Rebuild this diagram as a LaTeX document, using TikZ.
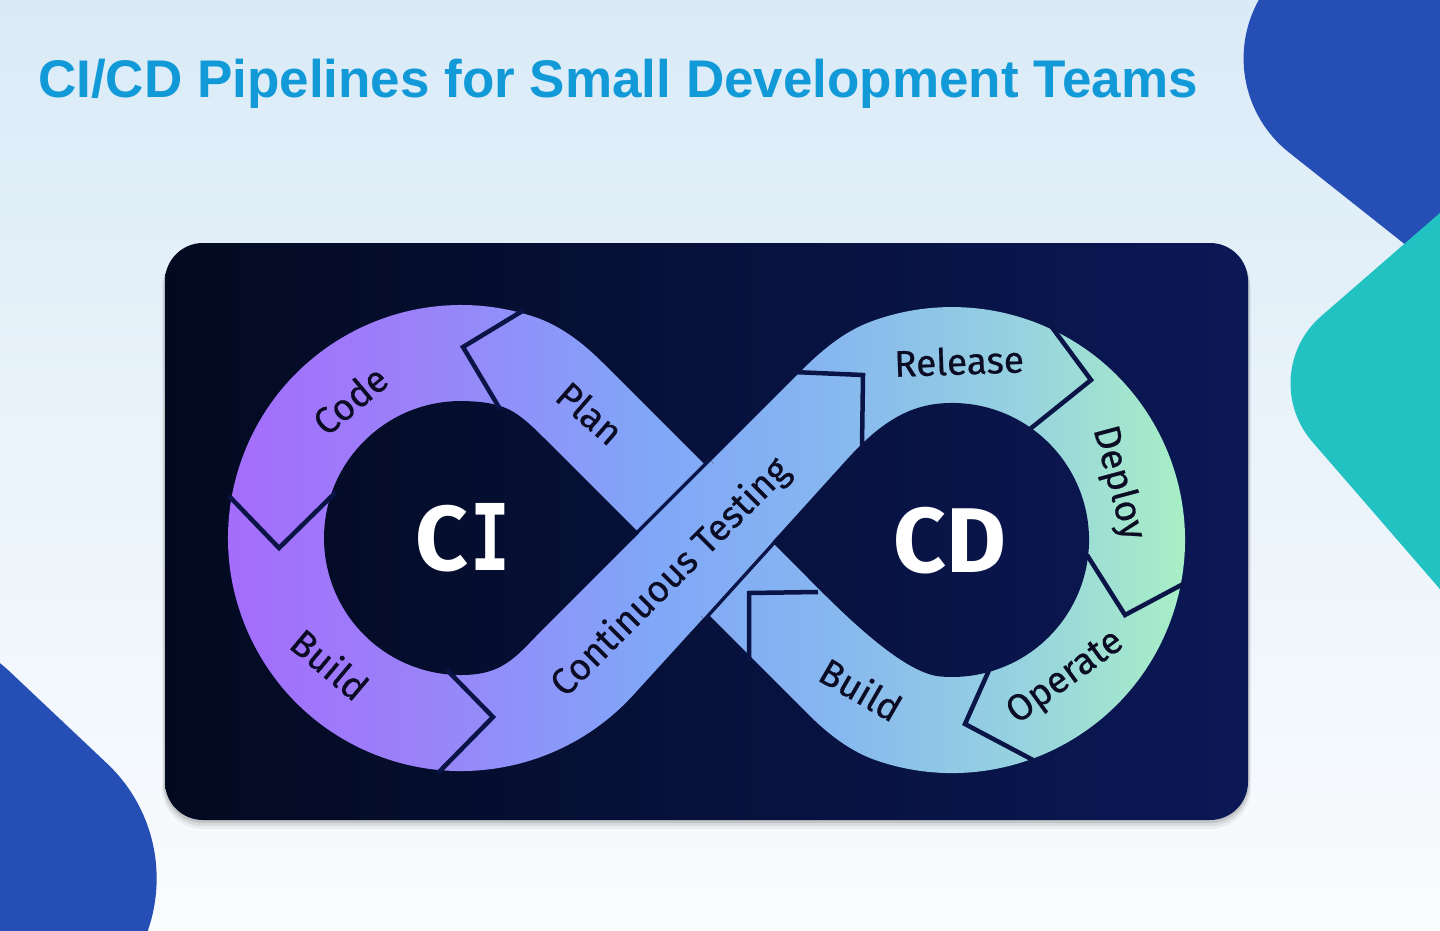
\documentclass[tikz,border=0pt]{standalone}
\usepackage{fontspec}
\setmainfont{Fira Sans}
\newfontfamily\ttlfont{Liberation Sans}
\newfontfamily\lblfont{Fira Sans}[FakeBold=0.6]
\newfontfamily\bigfont{Fira Sans}
\newfontfamily\serifmono{DejaVu Sans Mono}
\definecolor{bgtop}{HTML}{DAEBF7}
\definecolor{bgbot}{HTML}{FAFCFE}
\definecolor{titleblue}{HTML}{119AD7}
\definecolor{decoblue}{HTML}{264FB5}
\definecolor{decoteal}{HTML}{22C2C3}
\definecolor{cardleft}{HTML}{030A20}
\definecolor{cardright}{HTML}{0B1856}
\definecolor{sepcol}{HTML}{0A1446}
\definecolor{labcol}{HTML}{0B0C24}
\definecolor{lpA}{HTML}{A46CFB}
\definecolor{lpB}{HTML}{9A82F9}
\definecolor{lpC}{HTML}{80A7F8}
\definecolor{lpD}{HTML}{86B6F0}
\definecolor{lpE}{HTML}{96D2E0}
\definecolor{lpF}{HTML}{A9F0C4}
\pgfdeclarehorizontalshading{loopshade}{100bp}{color(0bp)=(lpA); color(25bp)=(lpA); color(35bp)=(lpB); color(47bp)=(lpC); color(56bp)=(lpD); color(66bp)=(lpE); color(75bp)=(lpF); color(100bp)=(lpF)}
\newcommand\loopfill{\shade[shading=loopshade] (226,298) rectangle (1192,782);}
\newcommand\cardfill{\shade[left color=cardleft, right color=cardright] (165,243) rectangle (1248,820);}
\begin{document}
\begin{tikzpicture}[x=1pt,y=-1pt,
  lbl/.style={font=\lblfont\fontsize{37}{40}\selectfont, text=labcol, inner sep=0pt},
  bignum/.style={font=\bigfont\bfseries\fontsize{92}{100}\selectfont, text=white, inner sep=0pt},
  sepline/.style={draw=sepcol, line width=4.5pt, line join=miter, line cap=butt}]
\useasboundingbox (0,0) rectangle (1440,931);
\clip (0,0) rectangle (1440,931);
% background
\shade[top color=bgtop, bottom color=bgbot] (0,0) rectangle (1440,931);
% decorative shapes
\fill[decoblue, rounded corners=120pt] (1356.5,-125.9) -- (1195,78) -- (1602.7,401) -- (1925.7,-6.7) -- (1518,-329.7) -- cycle;
\fill[decoteal, rounded corners=89pt] (1423.9,226.9) -- (1254,374.5) -- (1548.8,714.7) -- (1888.6,419.5) -- (1593.8,79.3) -- cycle;
\fill[decoblue, rounded corners=158pt] (-105,563.3) -- (222,872) -- (-86.7,1199) -- (-413.7,890.5) -- cycle;
% title
\node[anchor=base west, inner sep=0pt, font=\ttlfont\bfseries\fontsize{53}{60}\selectfont, text=titleblue] (title) at (38,98) {CI/CD Pipelines for Small Development Teams};
% card shadow and card
\fill[black, opacity=0.05, rounded corners=41pt] (162,248) rectangle (1251,829);
\fill[black, opacity=0.07, rounded corners=40pt] (163,246) rectangle (1250,826);
\fill[black, opacity=0.10, rounded corners=39pt] (164,245) rectangle (1249,823);
\shade[left color=cardleft, right color=cardright, rounded corners=38pt] (165,243) rectangle (1248,820);
% infinity band: outer outline
\begin{scope}
 \clip (706,466) -- (602.9,362.9) .. controls (583.1,343.1) and (560.4,325.4) .. (533.8,316.7)
   arc[start angle=-71.8, end angle=-317.9, radius=233]
   -- (707.5,613.5) -- (807.8,713.8)
   .. controls (827.6,733.6) and (850.4,751.6) .. (876.9,760.6)
   arc[start angle=108.8, end angle=-110.2, radius=233]
   .. controls (843.3,331.7) and (820.6,351.4) .. (799.4,372.6) -- cycle;
 \loopfill
\end{scope}
% continuous testing band over the crossing
\draw[sepline, line width=7pt] (633.5,538.5) -- (711,461);
\draw[sepline, line width=7pt] (703.4,618.1) -- (777.3,536.5);
\begin{scope}\clip (633.5,538.5) -- (703.4,618.1) -- (777.3,536.5) -- (711,461) -- cycle; \loopfill\end{scope}
% holes
\begin{scope}
 \clip (465.8,401.1) arc[start angle=-88, end angle=-272, radius=137]
   .. controls (505.8,673.5) and (517.7,654.3) .. (546,626) -- (639,533) -- (545,439)
   .. controls (516.7,410.7) and (505.8,402.5) .. (465.8,401.1) -- cycle;
 \cardfill
\end{scope}
\begin{scope}
 \clip (940.1,403.5) arc[start angle=-95, end angle=95, radius=137]
   .. controls (900.3,673) and (834.3,604.3) .. (806,576) -- (772.2,542.1) -- (845.3,461.3)
   .. controls (872,431.7) and (900.3,407) .. (940.1,403.5) -- cycle;
 \cardfill
\end{scope}
% separators
\draw[sepline] (229,496) -- (279,548) -- (336,492);
\draw[sepline] (524,310) -- (463,347) -- (500,409);
\draw[sepline] (447,670) -- (493,717) -- (438,773);
\draw[sepline] (1051,326) -- (1091,380) -- (1030,429);
\draw[sepline] (1185,583) -- (1125,615) -- (1087,555);
\draw[sepline] (990,668) -- (965,724) -- (1033,760);
\draw[sepline] (818,592) -- (749,593) -- (749,661);
\draw[sepline] (793,372) -- (863,375) -- (862,446);
% labels
\node[lbl, rotate=40] (code) at (350,400) {Code};
\node[lbl, rotate=-41] (plan) at (590,413) {Plan};
\node[lbl, rotate=-40] (buildl) at (330,664) {Build};
\node[lbl, rotate=45] (ctest) at (671,578) {Continuous Testing};
\node[lbl, rotate=2] (release) at (959,361) {Release};
\node[lbl, rotate=-75] (deploy) at (1118,483) {Deploy};
\node[lbl, rotate=36] (operate) at (1066,678) {Operate};
\node[lbl, rotate=-30] (buildr) at (861,689) {Build};
\node[bignum] (ci) at (463,538) {C\hspace{2pt}{\serifmono\bfseries\scalebox{0.72}[1]{I}}};
\node[bignum] (cd) at (950,541) {CD};
\end{tikzpicture}
\end{document}
